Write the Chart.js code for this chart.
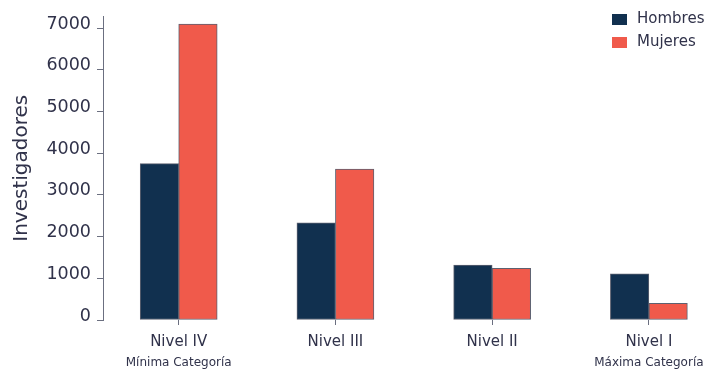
<!DOCTYPE html>
<html>
<head>
<meta charset="utf-8">
<script src="https://cdn.jsdelivr.net/npm/chart.js@4"></script>
<style>
  html, body { margin: 0; padding: 0; background: #fff; }
</style>
</head>
<body>
<canvas id="chart" width="711" height="372"></canvas>
<script>
const categories = ['Nivel IV', 'Nivel III', 'Nivel II', 'Nivel I'];
const subLabels = ['Mínima Categoría', '', '', 'Máxima Categoría'];
const hombres = [3750, 2330, 1320, 1110];
const mujeres = [7100, 3620, 1240, 400];
const yTicks = [0, 1000, 2000, 3000, 4000, 5000, 6000, 7000];

const navy = '#11304f';
const red = '#f05a4b';
const textColor = '#30324a';
const axisColor = '#6b6f80';
const font = '"DejaVu Sans", sans-serif';

// legend drawn top right, stacked, over the plot area
const sideLegend = {
  id: 'sideLegend',
  afterDraw(chart) {
    const ctx = chart.ctx;
    ctx.save();
    ctx.font = '15px ' + font;
    ctx.textBaseline = 'middle';
    chart.data.datasets.forEach((ds, i) => {
      const y = 19 + i * 23;
      ctx.fillStyle = ds.backgroundColor;
      ctx.fillRect(612, y - 5, 15, 11);
      ctx.fillStyle = textColor;
      ctx.fillText(ds.label, 637, y);
    });
    ctx.restore();
  }
};

const toPoints = arr => arr.map((v, i) => ({ x: i, y: v }));
const catTicks = scale => { scale.ticks = categories.map((c, i) => ({ value: i })); };

new Chart(document.getElementById('chart'), {
  type: 'bar',
  data: {
    datasets: [
      { label: 'Hombres', data: toPoints(hombres), backgroundColor: navy },
      { label: 'Mujeres', data: toPoints(mujeres), backgroundColor: red }
    ]
  },
  options: {
    responsive: false,
    animation: false,
    layout: { padding: { top: 12, bottom: 3, left: 0, right: 0 } },
    datasets: {
      bar: {
        barThickness: 38.5,
        borderWidth: 1,
        borderColor: '#5d6170',
        borderSkipped: false
      }
    },
    plugins: {
      legend: { display: false },
      tooltip: { enabled: false }
    },
    scales: {
      x: {
        type: 'linear',
        min: -0.483,
        max: 3.368,
        offset: false,
        weight: 0,
        afterBuildTicks: catTicks,
        afterFit: scale => { scale.height = 29; },
        border: { display: false },
        grid: { offset: false, drawOnChartArea: false, tickLength: 5, color: axisColor },
        ticks: {
          maxRotation: 0,
          autoSkip: false,
          padding: 8,
          color: textColor,
          font: { family: font, size: 15 },
          callback: (v, i) => categories[i]
        }
      },
      x2: {
        type: 'linear',
        position: 'bottom',
        min: -0.483,
        max: 3.368,
        offset: false,
        weight: 1,
        afterBuildTicks: catTicks,
        afterFit: scale => { scale.height = 20; },
        border: { display: false },
        grid: { display: false, drawTicks: false },
        ticks: {
          maxRotation: 0,
          autoSkip: false,
          padding: 7,
          color: textColor,
          font: { family: font, size: 12 },
          callback: (v, i) => subLabels[i]
        }
      },
      y: {
        min: 0,
        max: 7280,
        afterBuildTicks: scale => { scale.ticks = yTicks.map(v => ({ value: v })); },
        afterFit: scale => { scale.width = 103; },
        border: { display: true, color: axisColor, width: 1 },
        grid: { drawOnChartArea: false, tickLength: 6, color: axisColor },
        ticks: {
          padding: 6,
          labelOffset: -4,
          color: textColor,
          font: { family: font, size: 17.5 },
          callback: v => String(v)
        },
        title: {
          display: true,
          text: 'Investigadores',
          color: textColor,
          font: { family: font, size: 20 },
          padding: { top: 10, bottom: 0 }
        }
      }
    }
  },
  plugins: [sideLegend]
});
</script>
</body>
</html>
